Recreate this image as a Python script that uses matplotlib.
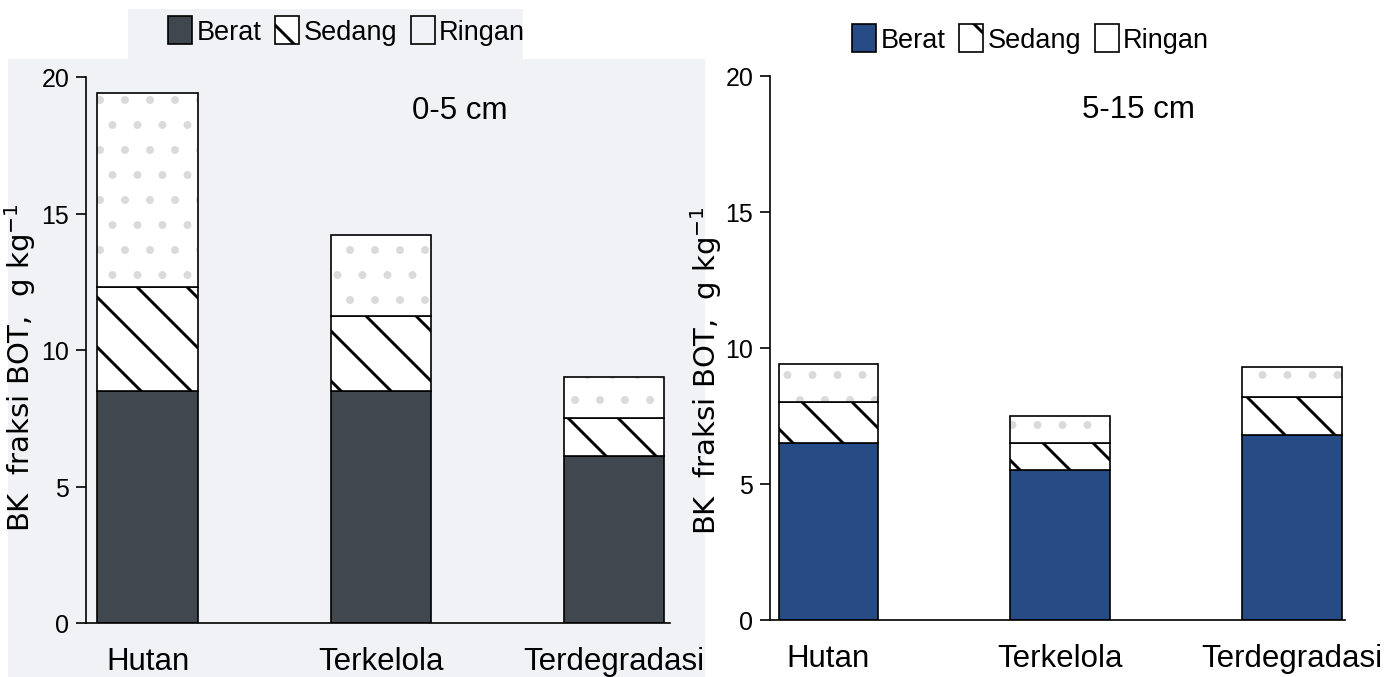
import matplotlib
matplotlib.use('Agg')
import matplotlib.pyplot as plt
from matplotlib.patches import Rectangle

# ── Data (g kg-1 per fraction) ───────────────────────────────────────────────
sites = ['Hutan', 'Terkelola', 'Terdegradasi']
fractions = ['Berat', 'Sedang', 'Ringan']

berat_0_5 = [8.5, 8.5, 6.1]
sedang_0_5 = [3.8, 2.75, 1.4]
ringan_0_5 = [7.1, 2.95, 1.5]

berat_5_15 = [6.5, 5.5, 6.8]
sedang_5_15 = [1.5, 1.0, 1.4]
ringan_5_15 = [1.4, 1.0, 1.1]

y_ticks = [0, 5, 10, 15, 20]
depths = ['0-5 cm', '5-15 cm']

plt.rcParams['font.family'] = ['Liberation Sans', 'DejaVu Sans']
plt.rcParams['hatch.linewidth'] = 1.4

fig = plt.figure(figsize=(9.24, 4.52), dpi=150)
W, H = 1386, 678

# scanned-page grey behind the left panel
fig.patches.append(Rectangle((8 / W, 0), 697 / W, 1 - 60 / H, transform=fig.transFigure,
                             facecolor='#f1f2f5', edgecolor='none', zorder=-10))
fig.patches.append(Rectangle((128 / W, 1 - 60 / H), 395 / W, 50 / H, transform=fig.transFigure,
                             facecolor='#f1f2f5', edgecolor='none', zorder=-10))


def panel(rect, berat, sedang, ringan, dark, depth, legend_xy):
    ax = fig.add_axes(rect)
    ax.set_facecolor('none')
    x = range(len(sites))
    w = 0.43
    b1 = ax.bar(x, berat, w, color=dark, edgecolor='black', linewidth=0.8, label=fractions[0])
    b2 = ax.bar(x, sedang, w, bottom=berat, color='white', edgecolor='black',
                linewidth=0.8, hatch='\\', label=fractions[1])
    bottom3 = [a + b for a, b in zip(berat, sedang)]
    # faint dots inside the light fraction, then black outline on top
    ax.bar(x, ringan, w, bottom=bottom3, color='white', edgecolor='#dadada',
           linewidth=0, hatch='.')
    b3 = ax.bar(x, ringan, w, bottom=bottom3, color='none', edgecolor='black',
                linewidth=0.8, label=fractions[2])

    ax.set_ylim(0, 20)
    ax.set_yticks(y_ticks)
    ax.set_xticks(list(x))
    ax.set_xticklabels(sites, fontsize=15)
    ax.tick_params(axis='x', length=0, pad=11)
    ax.tick_params(axis='y', direction='out', length=5, width=0.8, labelsize=12, pad=3)
    for s in ('top', 'right'):
        ax.spines[s].set_visible(False)
    for s in ('left', 'bottom'):
        ax.spines[s].set_linewidth(0.8)

    ax.set_ylabel('BK  fraksi BOT,  g kg$^{-1}$', fontsize=14, family='DejaVu Sans')
    ax.text(0.64, 0.94, depth, transform=ax.transAxes, fontsize=15, ha='center', va='center')

    fig.legend(handles=[b1, b2, b3], loc='center', bbox_to_anchor=legend_xy, ncol=3,
               frameon=False, fontsize=13, handlelength=0.9, handleheight=1.2,
               handletextpad=0.15, columnspacing=0.5, borderaxespad=0)
    return ax


ax1 = panel([86 / W, 1 - 624 / H, (670 - 86) / W, 546 / H],
            berat_0_5, sedang_0_5, ringan_0_5, '#40474f', depths[0], (0.25, 0.953))
ax1.set_xlim(-0.264, 2.24)
ax1.yaxis.set_label_coords(-0.082, 0.47)

ax2 = panel([770 / W, 1 - 621 / H, (1345 - 770) / W, 544 / H],
            berat_5_15, sedang_5_15, ringan_5_15, '#264b85', depths[1], (0.7435, 0.942))
ax2.set_xlim(-0.252, 2.23)
ax2.yaxis.set_label_coords(-0.08, 0.46)

fig.savefig('out.png', dpi=150)
